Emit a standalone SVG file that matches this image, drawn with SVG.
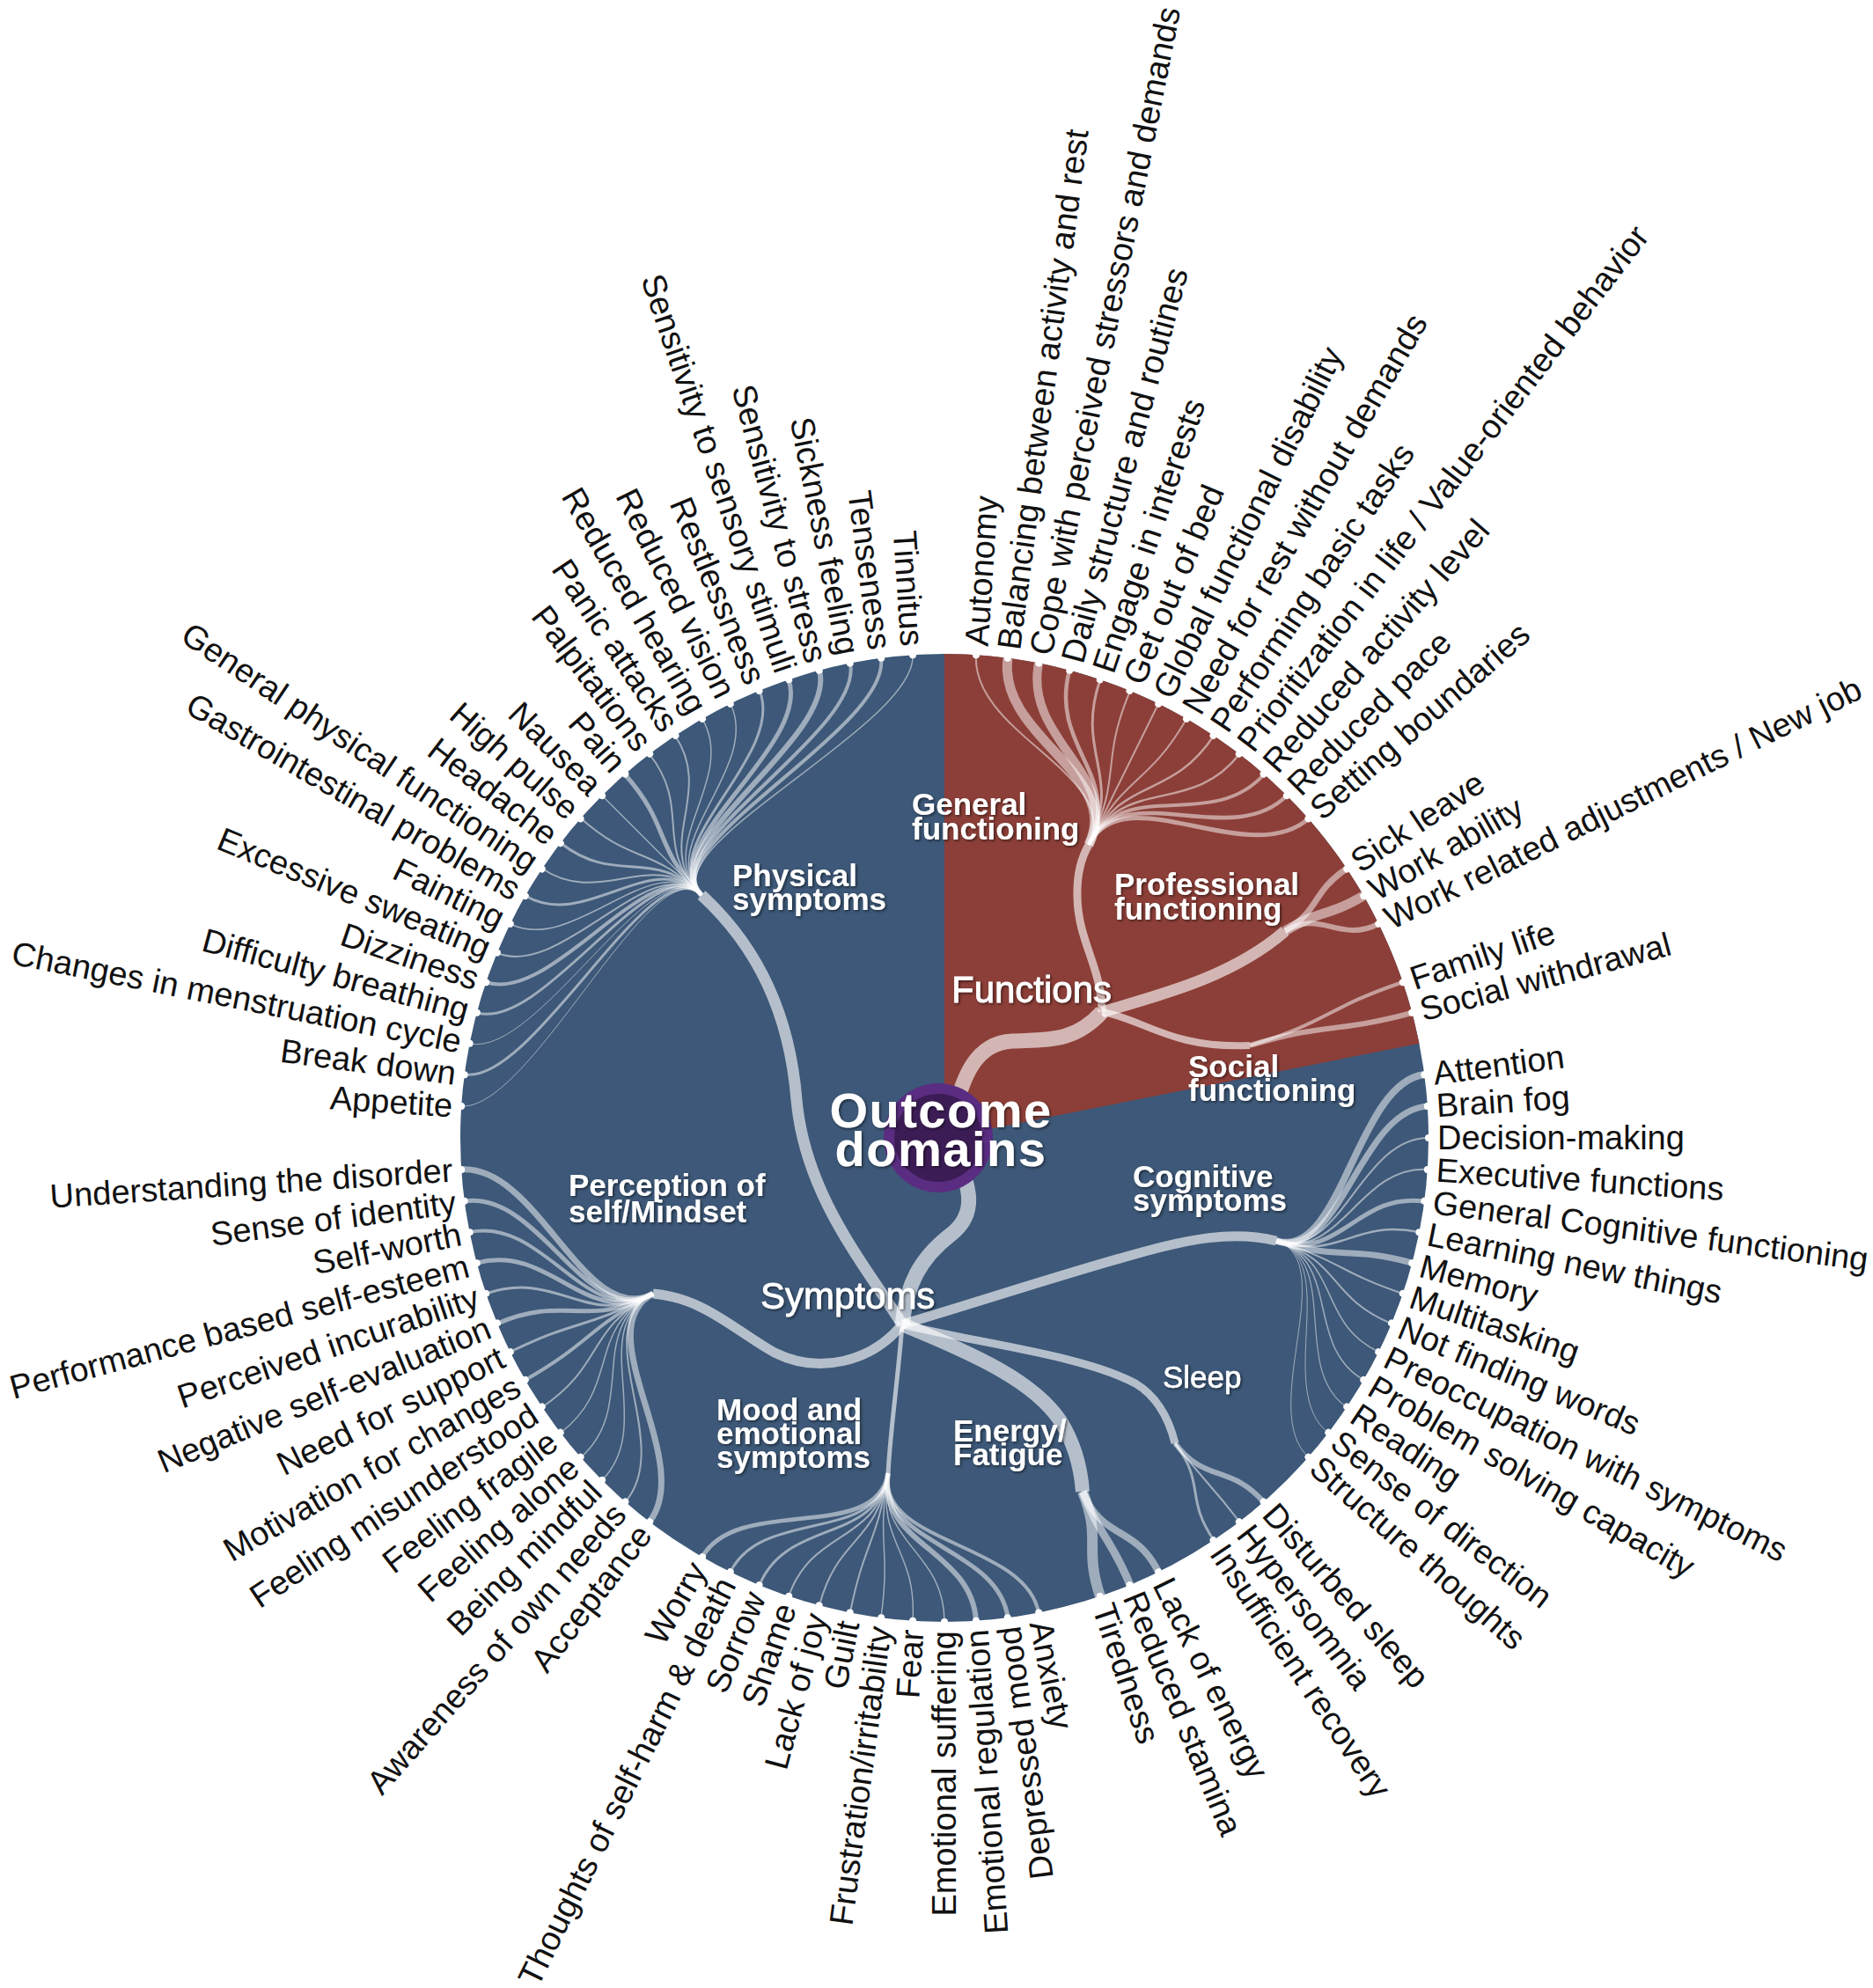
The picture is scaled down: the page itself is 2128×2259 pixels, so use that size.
<svg xmlns="http://www.w3.org/2000/svg" width="2128" height="2259" viewBox="0 0 2128 2259">
<defs>
<style>
.lb{font-family:"Liberation Sans",Arial,sans-serif;font-size:38px;fill:#111}
.e{text-anchor:end}
.tk{fill:#fff}
#links path{fill:none;stroke:#fff;stroke-opacity:0.5}
#links path.br{stroke-opacity:0.62}
.gt{font-family:"Liberation Sans",Arial,sans-serif;font-weight:bold;font-size:35px;fill:#fff;filter:url(#sh)}
.gr{font-family:"Liberation Sans",Arial,sans-serif;font-size:42px;fill:#fff;stroke:#fff;stroke-width:0.8;filter:url(#sh)}
.rt{font-family:"Liberation Sans",Arial,sans-serif;font-weight:bold;font-size:56px;letter-spacing:1.5px;fill:#fff;text-anchor:middle;filter:url(#sh)}
</style>
<filter id="sh" x="-10%" y="-30%" width="120%" height="160%"><feDropShadow dx="1.5" dy="1.5" stdDeviation="1.5" flood-color="#000" flood-opacity="0.55"/></filter>
</defs>
<rect width="2128" height="2259" fill="#fff"/>
<circle cx="1073" cy="1293" r="550" fill="#3d5878"/>
<path d="M1073 1293L1073 743A550 550 0 0 1 1612.4 1185.7Z" fill="#8c3f38"/>
<g id="links">
<path class="br" d="M1080 1285C1092 1220 1110 1185 1150 1183C1190 1181 1220 1185 1252 1150" stroke-width="17"/>
<path class="br" d="M1080 1300C1105 1350 1110 1380 1080 1403C1045 1430 1030 1460 1025 1505" stroke-width="17"/>
<path class="br" d="M1252 1150C1252 1100 1225 1070 1224 1020C1223 990 1230 972 1237 960" stroke-width="9"/>
<path class="br" d="M1252 1150C1320 1130 1400 1110 1460 1058" stroke-width="13"/>
<path class="br" d="M1252 1150C1300 1158 1330 1192 1420 1188" stroke-width="8"/>
<path class="br" d="M1025 1505C985 1440 915 1360 905 1250C897 1150 860 1075 797 1017" stroke-width="13"/>
<path class="br" d="M1025 1505C990 1548 930 1562 880 1537C835 1512 800 1475 742 1470" stroke-width="11"/>
<path class="br" d="M1025 1505C1020 1570 1012 1620 1009 1674" stroke-width="5"/>
<path class="br" d="M1025 1505C1110 1480 1200 1450 1290 1425C1350 1408 1400 1398 1450 1410" stroke-width="11"/>
<path class="br" d="M1025 1505C1110 1540 1175 1570 1205 1615C1222 1642 1228 1668 1230 1695" stroke-width="16"/>
<path class="br" d="M1025 1505C1120 1528 1230 1540 1290 1572C1315 1587 1328 1612 1335 1640" stroke-width="9"/>
<path d="M1237 960C1276 880 1103 834 1109 744" stroke-width="2"/>
<path d="M1237 960C1276 880 1133 837 1145 748" stroke-width="11"/>
<path d="M1237 960C1276 880 1163 842 1180 754" stroke-width="10"/>
<path d="M1237 960C1276 880 1192 849 1215 762" stroke-width="4.5"/>
<path d="M1237 960C1276 880 1221 857 1250 772" stroke-width="3"/>
<path d="M1237 960C1276 880 1249 868 1284 785" stroke-width="2"/>
<path d="M1237 960C1276 880 1277 880 1316 800" stroke-width="2"/>
<path d="M1237 960C1276 880 1303 895 1348 817" stroke-width="2"/>
<path d="M1237 960C1276 880 1329 911 1379 836" stroke-width="2.5"/>
<path d="M1237 960C1276 880 1353 928 1408 857" stroke-width="2.5"/>
<path d="M1237 960C1276 880 1376 947 1436 880" stroke-width="4"/>
<path d="M1237 960C1276 880 1398 968 1462 904" stroke-width="4.5"/>
<path d="M1237 960C1276 880 1419 990 1487 930" stroke-width="5"/>
<path d="M1460 1058C1501 1033 1489 1015 1530 987" stroke-width="7"/>
<path d="M1460 1058C1501 1033 1506 1043 1549 1018" stroke-width="11"/>
<path d="M1460 1058C1501 1033 1522 1072 1566 1050" stroke-width="6"/>
<path d="M1420 1188C1510 1161 1505 1146 1594 1116" stroke-width="4"/>
<path d="M1420 1188C1510 1161 1514 1175 1604 1151" stroke-width="6"/>
<path d="M1450 1410C1524 1433 1541 1231 1618 1221" stroke-width="8"/>
<path d="M1450 1410C1524 1433 1544 1262 1622 1257" stroke-width="7"/>
<path d="M1450 1410C1524 1433 1545 1293 1623 1293" stroke-width="2"/>
<path d="M1450 1410C1524 1433 1544 1324 1622 1329" stroke-width="2"/>
<path d="M1450 1410C1524 1433 1541 1355 1618 1365" stroke-width="5"/>
<path d="M1450 1410C1524 1433 1536 1385 1612 1400" stroke-width="2.5"/>
<path d="M1450 1410C1524 1433 1529 1415 1604 1435" stroke-width="7"/>
<path d="M1450 1410C1524 1433 1520 1445 1594 1470" stroke-width="2"/>
<path d="M1450 1410C1524 1433 1509 1474 1581 1504" stroke-width="2"/>
<path d="M1450 1410C1524 1433 1496 1502 1566 1536" stroke-width="1.5"/>
<path d="M1450 1410C1524 1433 1482 1529 1549 1568" stroke-width="1.5"/>
<path d="M1450 1410C1524 1433 1466 1555 1530 1599" stroke-width="1.2"/>
<path d="M1450 1410C1524 1433 1448 1580 1509 1628" stroke-width="1"/>
<path d="M1450 1410C1524 1433 1428 1604 1487 1656" stroke-width="1"/>
<path d="M1335 1640C1370 1686 1397 1663 1436 1707" stroke-width="6"/>
<path d="M1335 1640C1370 1686 1373 1683 1408 1729" stroke-width="2"/>
<path d="M1335 1640C1370 1686 1346 1702 1379 1750" stroke-width="3"/>
<path d="M1230 1695C1252 1750 1290 1733 1316 1786" stroke-width="8"/>
<path d="M1230 1695C1252 1750 1261 1746 1284 1801" stroke-width="9"/>
<path d="M1230 1695C1252 1750 1231 1757 1250 1814" stroke-width="12"/>
<path d="M1009 1674C996 1755 1164 1752 1180 1832" stroke-width="4"/>
<path d="M1009 1674C996 1755 1134 1757 1145 1838" stroke-width="5"/>
<path d="M1009 1674C996 1755 1104 1760 1109 1842" stroke-width="6"/>
<path d="M1009 1674C996 1755 1073 1761 1073 1843" stroke-width="1.5"/>
<path d="M1009 1674C996 1755 1042 1760 1037 1842" stroke-width="1.5"/>
<path d="M1009 1674C996 1755 1012 1757 1001 1838" stroke-width="1.5"/>
<path d="M1009 1674C996 1755 982 1752 966 1832" stroke-width="2"/>
<path d="M1009 1674C996 1755 952 1745 931 1824" stroke-width="2"/>
<path d="M1009 1674C996 1755 923 1736 896 1814" stroke-width="2"/>
<path d="M1009 1674C996 1755 894 1725 863 1801" stroke-width="3"/>
<path d="M1009 1674C996 1755 866 1713 830 1786" stroke-width="3"/>
<path d="M1009 1674C996 1755 839 1698 798 1769" stroke-width="5"/>
<path d="M742 1470C665 1511 791 1660 738 1729" stroke-width="7"/>
<path d="M742 1470C665 1511 768 1641 710 1707" stroke-width="2"/>
<path d="M742 1470C665 1511 746 1620 684 1682" stroke-width="1.5"/>
<path d="M742 1470C665 1511 725 1598 660 1656" stroke-width="1.5"/>
<path d="M742 1470C665 1511 706 1575 637 1628" stroke-width="1.5"/>
<path d="M742 1470C665 1511 688 1550 616 1599" stroke-width="2"/>
<path d="M742 1470C665 1511 672 1525 597 1568" stroke-width="4"/>
<path d="M742 1470C665 1511 658 1498 580 1536" stroke-width="3"/>
<path d="M742 1470C665 1511 645 1470 565 1504" stroke-width="5"/>
<path d="M742 1470C665 1511 635 1442 552 1470" stroke-width="3"/>
<path d="M742 1470C665 1511 626 1413 542 1435" stroke-width="5"/>
<path d="M742 1470C665 1511 619 1383 534 1400" stroke-width="4"/>
<path d="M742 1470C665 1511 614 1353 528 1365" stroke-width="5"/>
<path d="M742 1470C665 1511 611 1323 524 1329" stroke-width="7"/>
<path d="M797 1017C741 961 604 1262 524 1257" stroke-width="1"/>
<path d="M797 1017C741 961 607 1232 528 1221" stroke-width="3"/>
<path d="M797 1017C741 961 612 1201 534 1186" stroke-width="1"/>
<path d="M797 1017C741 961 619 1171 542 1151" stroke-width="3"/>
<path d="M797 1017C741 961 628 1142 552 1116" stroke-width="4"/>
<path d="M797 1017C741 961 639 1113 565 1083" stroke-width="2"/>
<path d="M797 1017C741 961 652 1085 580 1050" stroke-width="1.5"/>
<path d="M797 1017C741 961 666 1058 597 1018" stroke-width="3"/>
<path d="M797 1017C741 961 682 1032 616 987" stroke-width="2"/>
<path d="M797 1017C741 961 700 1007 637 958" stroke-width="3"/>
<path d="M797 1017C741 961 720 983 660 930" stroke-width="2"/>
<path d="M797 1017C741 961 741 961 684 904" stroke-width="1.5"/>
<path d="M797 1017C741 961 763 940 710 880" stroke-width="5"/>
<path d="M797 1017C741 961 787 920 738 857" stroke-width="2"/>
<path d="M797 1017C741 961 812 902 767 836" stroke-width="2"/>
<path d="M797 1017C741 961 838 886 798 817" stroke-width="1.5"/>
<path d="M797 1017C741 961 865 872 830 800" stroke-width="1.5"/>
<path d="M797 1017C741 961 893 859 863 785" stroke-width="3"/>
<path d="M797 1017C741 961 922 848 896 772" stroke-width="5"/>
<path d="M797 1017C741 961 951 839 931 762" stroke-width="6"/>
<path d="M797 1017C741 961 981 832 966 754" stroke-width="4"/>
<path d="M797 1017C741 961 1012 827 1001 748" stroke-width="4"/>
<path d="M797 1017C741 961 1042 824 1037 744" stroke-width="1.5"/>
</g>
<g id="node-root">
<circle cx="1066" cy="1293" r="62" fill="#5a2d82"/>
<circle cx="1066" cy="1293" r="50" fill="#3c1c55"/>
<text class="rt" x="1069" y="1281">Outcome<tspan x="1069" dy="44">domains</tspan></text>
</g>
<g id="node-functions"><text class="gr" x="1081" y="1139">Functions</text></g>
<g id="node-symptoms"><text class="gr" x="864" y="1487">Symptoms</text></g>
<g id="node-general"><text class="gt" x="1036" y="926">General<tspan x="1036" dy="28">functioning</tspan></text></g>
<g id="node-professional"><text class="gt" x="1266" y="1017">Professional<tspan x="1266" dy="28">functioning</tspan></text></g>
<g id="node-social"><text class="gt" x="1350" y="1224">Social<tspan x="1350" dy="27">functioning</tspan></text></g>
<g id="node-physical"><text class="gt" x="832" y="1007">Physical<tspan x="832" dy="27">symptoms</tspan></text></g>
<g id="node-perception"><text class="gt" x="646" y="1359">Perception of<tspan x="646" dy="30">self/Mindset</tspan></text></g>
<g id="node-cognitive"><text class="gt" x="1287" y="1349">Cognitive<tspan x="1287" dy="27">symptoms</tspan></text></g>
<g id="node-sleep"><text class="gt" style="font-weight:normal;stroke:#fff;stroke-width:0.6" x="1321" y="1577">Sleep</text></g>
<g id="node-energy"><text class="gt" x="1083" y="1638">Energy/<tspan x="1083" dy="27">Fatigue</tspan></text></g>
<g id="node-mood"><text class="gt" x="814" y="1614">Mood and<tspan x="814" dy="27">emotional</tspan><tspan x="814" dy="27">symptoms</tspan></text></g>
<g id="leaves">
<g id="l1" transform="rotate(-86.25 1073 1293)"><circle class="tk" cx="1623" cy="1293" r="4"/><text class="lb" x="1633" y="1306">Autonomy</text></g>
<g id="l2" transform="rotate(-82.5 1073 1293)"><circle class="tk" cx="1623" cy="1293" r="4"/><text class="lb" x="1633" y="1306">Balancing between activity and rest</text></g>
<g id="l3" transform="rotate(-78.75 1073 1293)"><circle class="tk" cx="1623" cy="1293" r="4"/><text class="lb" x="1633" y="1306">Cope with perceived stressors and demands</text></g>
<g id="l4" transform="rotate(-75 1073 1293)"><circle class="tk" cx="1623" cy="1293" r="4"/><text class="lb" x="1633" y="1306">Daily structure and routines</text></g>
<g id="l5" transform="rotate(-71.25 1073 1293)"><circle class="tk" cx="1623" cy="1293" r="4"/><text class="lb" x="1633" y="1306">Engage in interests</text></g>
<g id="l6" transform="rotate(-67.5 1073 1293)"><circle class="tk" cx="1623" cy="1293" r="4"/><text class="lb" x="1633" y="1306">Get out of bed</text></g>
<g id="l7" transform="rotate(-63.75 1073 1293)"><circle class="tk" cx="1623" cy="1293" r="4"/><text class="lb" x="1633" y="1306">Global functional disability</text></g>
<g id="l8" transform="rotate(-60 1073 1293)"><circle class="tk" cx="1623" cy="1293" r="4"/><text class="lb" x="1633" y="1306">Need for rest without demands</text></g>
<g id="l9" transform="rotate(-56.25 1073 1293)"><circle class="tk" cx="1623" cy="1293" r="4"/><text class="lb" x="1633" y="1306">Performing basic tasks</text></g>
<g id="l10" transform="rotate(-52.5 1073 1293)"><circle class="tk" cx="1623" cy="1293" r="4"/><text class="lb" x="1633" y="1306">Prioritization in life / Value-oriented behavior</text></g>
<g id="l11" transform="rotate(-48.75 1073 1293)"><circle class="tk" cx="1623" cy="1293" r="4"/><text class="lb" x="1633" y="1306">Reduced activity level</text></g>
<g id="l12" transform="rotate(-45 1073 1293)"><circle class="tk" cx="1623" cy="1293" r="4"/><text class="lb" x="1633" y="1306">Reduced pace</text></g>
<g id="l13" transform="rotate(-41.25 1073 1293)"><circle class="tk" cx="1623" cy="1293" r="4"/><text class="lb" x="1633" y="1306">Setting boundaries</text></g>
<g id="l14" transform="rotate(-33.75 1073 1293)"><circle class="tk" cx="1623" cy="1293" r="4"/><text class="lb" x="1633" y="1306">Sick leave</text></g>
<g id="l15" transform="rotate(-30 1073 1293)"><circle class="tk" cx="1623" cy="1293" r="4"/><text class="lb" x="1633" y="1306">Work ability</text></g>
<g id="l16" transform="rotate(-26.25 1073 1293)"><circle class="tk" cx="1623" cy="1293" r="4"/><text class="lb" x="1633" y="1306">Work related adjustments / New job</text></g>
<g id="l17" transform="rotate(-18.75 1073 1293)"><circle class="tk" cx="1623" cy="1293" r="4"/><text class="lb" x="1633" y="1306">Family life</text></g>
<g id="l18" transform="rotate(-15 1073 1293)"><circle class="tk" cx="1623" cy="1293" r="4"/><text class="lb" x="1633" y="1306">Social withdrawal</text></g>
<g id="l19" transform="rotate(-7.5 1073 1293)"><circle class="tk" cx="1623" cy="1293" r="4"/><text class="lb" x="1633" y="1306">Attention</text></g>
<g id="l20" transform="rotate(-3.75 1073 1293)"><circle class="tk" cx="1623" cy="1293" r="4"/><text class="lb" x="1633" y="1306">Brain fog</text></g>
<g id="l21" transform="rotate(0 1073 1293)"><circle class="tk" cx="1623" cy="1293" r="4"/><text class="lb" x="1633" y="1306">Decision-making</text></g>
<g id="l22" transform="rotate(3.75 1073 1293)"><circle class="tk" cx="1623" cy="1293" r="4"/><text class="lb" x="1633" y="1306">Executive functions</text></g>
<g id="l23" transform="rotate(7.5 1073 1293)"><circle class="tk" cx="1623" cy="1293" r="4"/><text class="lb" x="1633" y="1306">General Cognitive functioning</text></g>
<g id="l24" transform="rotate(11.25 1073 1293)"><circle class="tk" cx="1623" cy="1293" r="4"/><text class="lb" x="1633" y="1306">Learning new things</text></g>
<g id="l25" transform="rotate(15 1073 1293)"><circle class="tk" cx="1623" cy="1293" r="4"/><text class="lb" x="1633" y="1306">Memory</text></g>
<g id="l26" transform="rotate(18.75 1073 1293)"><circle class="tk" cx="1623" cy="1293" r="4"/><text class="lb" x="1633" y="1306">Multitasking</text></g>
<g id="l27" transform="rotate(22.5 1073 1293)"><circle class="tk" cx="1623" cy="1293" r="4"/><text class="lb" x="1633" y="1306">Not finding words</text></g>
<g id="l28" transform="rotate(26.25 1073 1293)"><circle class="tk" cx="1623" cy="1293" r="4"/><text class="lb" x="1633" y="1306">Preoccupation with symptoms</text></g>
<g id="l29" transform="rotate(30 1073 1293)"><circle class="tk" cx="1623" cy="1293" r="4"/><text class="lb" x="1633" y="1306">Problem solving capacity</text></g>
<g id="l30" transform="rotate(33.75 1073 1293)"><circle class="tk" cx="1623" cy="1293" r="4"/><text class="lb" x="1633" y="1306">Reading</text></g>
<g id="l31" transform="rotate(37.5 1073 1293)"><circle class="tk" cx="1623" cy="1293" r="4"/><text class="lb" x="1633" y="1306">Sense of direction</text></g>
<g id="l32" transform="rotate(41.25 1073 1293)"><circle class="tk" cx="1623" cy="1293" r="4"/><text class="lb" x="1633" y="1306">Structure thoughts</text></g>
<g id="l33" transform="rotate(48.75 1073 1293)"><circle class="tk" cx="1623" cy="1293" r="4"/><text class="lb" x="1633" y="1306">Disturbed sleep</text></g>
<g id="l34" transform="rotate(52.5 1073 1293)"><circle class="tk" cx="1623" cy="1293" r="4"/><text class="lb" x="1633" y="1306">Hypersomnia</text></g>
<g id="l35" transform="rotate(56.25 1073 1293)"><circle class="tk" cx="1623" cy="1293" r="4"/><text class="lb" x="1633" y="1306">Insufficient recovery</text></g>
<g id="l36" transform="rotate(63.75 1073 1293)"><circle class="tk" cx="1623" cy="1293" r="4"/><text class="lb" x="1633" y="1306">Lack of energy</text></g>
<g id="l37" transform="rotate(67.5 1073 1293)"><circle class="tk" cx="1623" cy="1293" r="4"/><text class="lb" x="1633" y="1306">Reduced stamina</text></g>
<g id="l38" transform="rotate(71.25 1073 1293)"><circle class="tk" cx="1623" cy="1293" r="4"/><text class="lb" x="1633" y="1306">Tiredness</text></g>
<g id="l39" transform="rotate(78.75 1073 1293)"><circle class="tk" cx="1623" cy="1293" r="4"/><text class="lb" x="1633" y="1306">Anxiety</text></g>
<g id="l40" transform="rotate(-97.5 1073 1293)"><circle class="tk" cx="523" cy="1293" r="4"/><text class="lb e" x="513" y="1306">Depressed mood</text></g>
<g id="l41" transform="rotate(-93.75 1073 1293)"><circle class="tk" cx="523" cy="1293" r="4"/><text class="lb e" x="513" y="1306">Emotional regulation</text></g>
<g id="l42" transform="rotate(-90 1073 1293)"><circle class="tk" cx="523" cy="1293" r="4"/><text class="lb e" x="513" y="1306">Emotional suffering</text></g>
<g id="l43" transform="rotate(-86.25 1073 1293)"><circle class="tk" cx="523" cy="1293" r="4"/><text class="lb e" x="513" y="1306">Fear</text></g>
<g id="l44" transform="rotate(-82.5 1073 1293)"><circle class="tk" cx="523" cy="1293" r="4"/><text class="lb e" x="513" y="1306">Frustration/irritability</text></g>
<g id="l45" transform="rotate(-78.75 1073 1293)"><circle class="tk" cx="523" cy="1293" r="4"/><text class="lb e" x="513" y="1306">Guilt</text></g>
<g id="l46" transform="rotate(-75 1073 1293)"><circle class="tk" cx="523" cy="1293" r="4"/><text class="lb e" x="513" y="1306">Lack of joy</text></g>
<g id="l47" transform="rotate(-71.25 1073 1293)"><circle class="tk" cx="523" cy="1293" r="4"/><text class="lb e" x="513" y="1306">Shame</text></g>
<g id="l48" transform="rotate(-67.5 1073 1293)"><circle class="tk" cx="523" cy="1293" r="4"/><text class="lb e" x="513" y="1306">Sorrow</text></g>
<g id="l49" transform="rotate(-63.75 1073 1293)"><circle class="tk" cx="523" cy="1293" r="4"/><text class="lb e" x="513" y="1306">Thoughts of self-harm &amp; death</text></g>
<g id="l50" transform="rotate(-60 1073 1293)"><circle class="tk" cx="523" cy="1293" r="4"/><text class="lb e" x="513" y="1306">Worry</text></g>
<g id="l51" transform="rotate(-52.5 1073 1293)"><circle class="tk" cx="523" cy="1293" r="4"/><text class="lb e" x="513" y="1306">Acceptance</text></g>
<g id="l52" transform="rotate(-48.75 1073 1293)"><circle class="tk" cx="523" cy="1293" r="4"/><text class="lb e" x="513" y="1306">Awareness of own needs</text></g>
<g id="l53" transform="rotate(-45 1073 1293)"><circle class="tk" cx="523" cy="1293" r="4"/><text class="lb e" x="513" y="1306">Being mindful</text></g>
<g id="l54" transform="rotate(-41.25 1073 1293)"><circle class="tk" cx="523" cy="1293" r="4"/><text class="lb e" x="513" y="1306">Feeling alone</text></g>
<g id="l55" transform="rotate(-37.5 1073 1293)"><circle class="tk" cx="523" cy="1293" r="4"/><text class="lb e" x="513" y="1306">Feeling fragile</text></g>
<g id="l56" transform="rotate(-33.75 1073 1293)"><circle class="tk" cx="523" cy="1293" r="4"/><text class="lb e" x="513" y="1306">Feeling misunderstood</text></g>
<g id="l57" transform="rotate(-30 1073 1293)"><circle class="tk" cx="523" cy="1293" r="4"/><text class="lb e" x="513" y="1306">Motivation for changes</text></g>
<g id="l58" transform="rotate(-26.25 1073 1293)"><circle class="tk" cx="523" cy="1293" r="4"/><text class="lb e" x="513" y="1306">Need for support</text></g>
<g id="l59" transform="rotate(-22.5 1073 1293)"><circle class="tk" cx="523" cy="1293" r="4"/><text class="lb e" x="513" y="1306">Negative self-evaluation</text></g>
<g id="l60" transform="rotate(-18.75 1073 1293)"><circle class="tk" cx="523" cy="1293" r="4"/><text class="lb e" x="513" y="1306">Perceived incurability</text></g>
<g id="l61" transform="rotate(-15 1073 1293)"><circle class="tk" cx="523" cy="1293" r="4"/><text class="lb e" x="513" y="1306">Performance based self-esteem</text></g>
<g id="l62" transform="rotate(-11.25 1073 1293)"><circle class="tk" cx="523" cy="1293" r="4"/><text class="lb e" x="513" y="1306">Self-worth</text></g>
<g id="l63" transform="rotate(-7.5 1073 1293)"><circle class="tk" cx="523" cy="1293" r="4"/><text class="lb e" x="513" y="1306">Sense of identity</text></g>
<g id="l64" transform="rotate(-3.75 1073 1293)"><circle class="tk" cx="523" cy="1293" r="4"/><text class="lb e" x="513" y="1306">Understanding the disorder</text></g>
<g id="l65" transform="rotate(3.75 1073 1293)"><circle class="tk" cx="523" cy="1293" r="4"/><text class="lb e" x="513" y="1306">Appetite</text></g>
<g id="l66" transform="rotate(7.5 1073 1293)"><circle class="tk" cx="523" cy="1293" r="4"/><text class="lb e" x="513" y="1306">Break down</text></g>
<g id="l67" transform="rotate(11.25 1073 1293)"><circle class="tk" cx="523" cy="1293" r="4"/><text class="lb e" x="513" y="1306">Changes in menstruation cycle</text></g>
<g id="l68" transform="rotate(15 1073 1293)"><circle class="tk" cx="523" cy="1293" r="4"/><text class="lb e" x="513" y="1306">Difficulty breathing</text></g>
<g id="l69" transform="rotate(18.75 1073 1293)"><circle class="tk" cx="523" cy="1293" r="4"/><text class="lb e" x="513" y="1306">Dizziness</text></g>
<g id="l70" transform="rotate(22.5 1073 1293)"><circle class="tk" cx="523" cy="1293" r="4"/><text class="lb e" x="513" y="1306">Excessive sweating</text></g>
<g id="l71" transform="rotate(26.25 1073 1293)"><circle class="tk" cx="523" cy="1293" r="4"/><text class="lb e" x="513" y="1306">Fainting</text></g>
<g id="l72" transform="rotate(30 1073 1293)"><circle class="tk" cx="523" cy="1293" r="4"/><text class="lb e" x="513" y="1306">Gastrointestinal problems</text></g>
<g id="l73" transform="rotate(33.75 1073 1293)"><circle class="tk" cx="523" cy="1293" r="4"/><text class="lb e" x="513" y="1306">General physical functioning</text></g>
<g id="l74" transform="rotate(37.5 1073 1293)"><circle class="tk" cx="523" cy="1293" r="4"/><text class="lb e" x="513" y="1306">Headache</text></g>
<g id="l75" transform="rotate(41.25 1073 1293)"><circle class="tk" cx="523" cy="1293" r="4"/><text class="lb e" x="513" y="1306">High pulse</text></g>
<g id="l76" transform="rotate(45 1073 1293)"><circle class="tk" cx="523" cy="1293" r="4"/><text class="lb e" x="513" y="1306">Nausea</text></g>
<g id="l77" transform="rotate(48.75 1073 1293)"><circle class="tk" cx="523" cy="1293" r="4"/><text class="lb e" x="513" y="1306">Pain</text></g>
<g id="l78" transform="rotate(52.5 1073 1293)"><circle class="tk" cx="523" cy="1293" r="4"/><text class="lb e" x="513" y="1306">Palpitations</text></g>
<g id="l79" transform="rotate(56.25 1073 1293)"><circle class="tk" cx="523" cy="1293" r="4"/><text class="lb e" x="513" y="1306">Panic attacks</text></g>
<g id="l80" transform="rotate(60 1073 1293)"><circle class="tk" cx="523" cy="1293" r="4"/><text class="lb e" x="513" y="1306">Reduced hearing</text></g>
<g id="l81" transform="rotate(63.75 1073 1293)"><circle class="tk" cx="523" cy="1293" r="4"/><text class="lb e" x="513" y="1306">Reduced vision</text></g>
<g id="l82" transform="rotate(67.5 1073 1293)"><circle class="tk" cx="523" cy="1293" r="4"/><text class="lb e" x="513" y="1306">Restlessness</text></g>
<g id="l83" transform="rotate(71.25 1073 1293)"><circle class="tk" cx="523" cy="1293" r="4"/><text class="lb e" x="513" y="1306">Sensitivity to sensory stimuli</text></g>
<g id="l84" transform="rotate(75 1073 1293)"><circle class="tk" cx="523" cy="1293" r="4"/><text class="lb e" x="513" y="1306">Sensitivity to stress</text></g>
<g id="l85" transform="rotate(78.75 1073 1293)"><circle class="tk" cx="523" cy="1293" r="4"/><text class="lb e" x="513" y="1306">Sickness feeling</text></g>
<g id="l86" transform="rotate(82.5 1073 1293)"><circle class="tk" cx="523" cy="1293" r="4"/><text class="lb e" x="513" y="1306">Tenseness</text></g>
<g id="l87" transform="rotate(86.25 1073 1293)"><circle class="tk" cx="523" cy="1293" r="4"/><text class="lb e" x="513" y="1306">Tinnitus</text></g>
</g>
</svg>
